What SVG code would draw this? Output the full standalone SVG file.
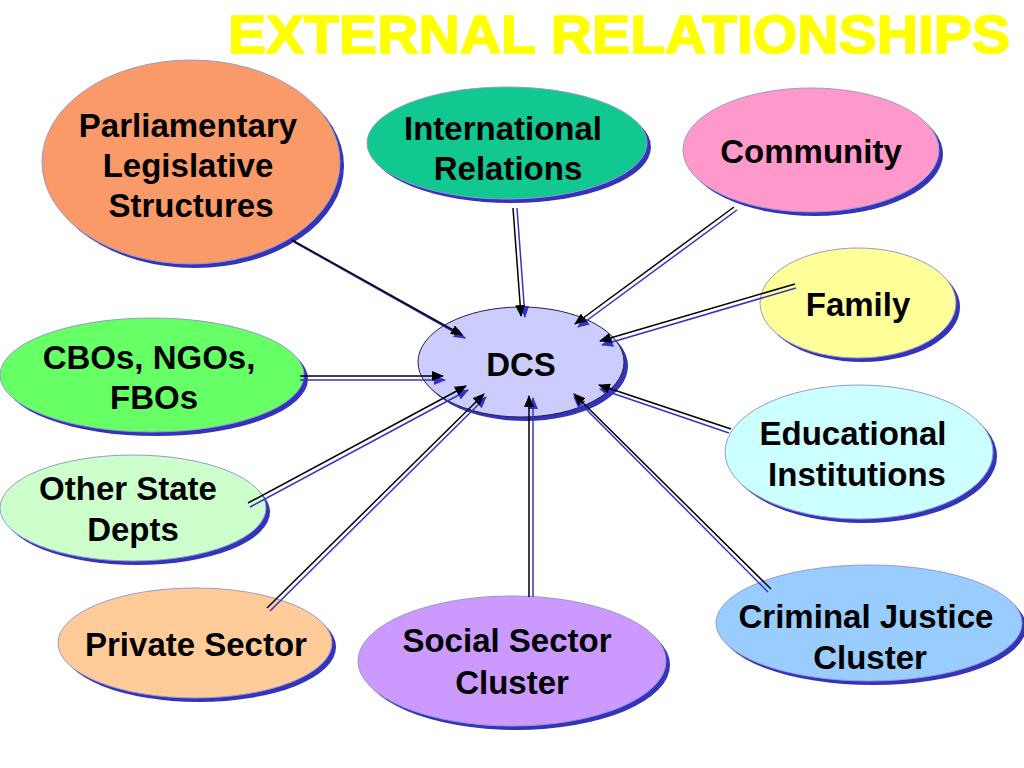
<svg xmlns="http://www.w3.org/2000/svg" width="1024" height="768" viewBox="0 0 1024 768">
<defs>
<marker id="ah" viewBox="0 0 12 10" refX="11" refY="5" markerWidth="12" markerHeight="10" markerUnits="userSpaceOnUse" orient="auto">
<path d="M0,0 L12,5 L0,10 z" fill="#000"/>
</marker>
<marker id="ahs" viewBox="0 0 12 10" refX="11" refY="5" markerWidth="12" markerHeight="10" markerUnits="userSpaceOnUse" orient="auto">
<path d="M0,0 L12,5 L0,10 z" fill="#3333CC"/>
</marker>
</defs>
<style>
.sh{fill:#3333BB}
.nd{stroke:#9999CC;stroke-width:1}
.t{font-family:"Liberation Sans",Arial,sans-serif;font-weight:bold;font-size:33px;fill:#000;text-anchor:middle}
.c{stroke:#000;stroke-width:1.5;fill:none;marker-end:url(#ah)}
.cs{stroke:#3333CC;stroke-width:1.5;fill:none;marker-end:url(#ahs)}
.title{font-family:"Liberation Sans",Arial,sans-serif;font-weight:bold;font-size:54px;fill:#FFFF00;stroke:#FFFF00;stroke-width:1.5}
</style>
<rect width="1024" height="768" fill="#fff"/>
<text class="title" x="228" y="53" textLength="782" lengthAdjust="spacingAndGlyphs">EXTERNAL RELATIONSHIPS</text>

<g id="parliamentary">
<ellipse class="sh" cx="195" cy="166" rx="149" ry="102"/>
<ellipse class="nd" cx="191" cy="162" rx="149" ry="102" fill="#FA9A68"/>
<text class="t" x="188" y="137">Parliamentary</text>
<text class="t" x="188" y="177">Legislative</text>
<text class="t" x="191" y="217">Structures</text>
</g>
<g id="international">
<ellipse class="sh" cx="511" cy="147" rx="140" ry="56"/>
<ellipse class="nd" cx="507" cy="143" rx="140" ry="56" fill="#10C890"/>
<text class="t" x="503" y="140">International</text>
<text class="t" x="508" y="180">Relations</text>
</g>
<g id="community">
<ellipse class="sh" cx="815" cy="154" rx="128" ry="62"/>
<ellipse class="nd" cx="811" cy="150" rx="128" ry="62" fill="#FF99CC"/>
<text class="t" x="811" y="163">Community</text>
</g>
<g id="family">
<ellipse class="sh" cx="862" cy="307" rx="98" ry="55"/>
<ellipse class="nd" cx="858" cy="303" rx="98" ry="55" fill="#FFFF99"/>
<text class="t" x="858" y="316">Family</text>
</g>
<g id="dcs">
<ellipse class="sh" cx="525" cy="366" rx="103" ry="55"/>
<ellipse cx="521" cy="362" rx="103" ry="55" fill="#CCCCFF" stroke="#222244" stroke-width="1"/>
<text class="t" x="521" y="376">DCS</text>
</g>
<g id="cbos">
<ellipse class="sh" cx="156" cy="379" rx="152" ry="57"/>
<ellipse class="nd" cx="152" cy="375" rx="152" ry="57" fill="#66FF66"/>
<text class="t" x="149" y="369">CBOs, NGOs,</text>
<text class="t" x="154" y="409">FBOs</text>
</g>
<g id="otherstate">
<ellipse class="sh" cx="137" cy="512" rx="133" ry="53"/>
<ellipse class="nd" cx="133" cy="508" rx="133" ry="53" fill="#CCFFCC"/>
<text class="t" x="128" y="500">Other State</text>
<text class="t" x="133" y="541">Depts</text>
</g>
<g id="educational">
<ellipse class="sh" cx="863" cy="456" rx="134" ry="67"/>
<ellipse class="nd" cx="859" cy="452" rx="134" ry="67" fill="#CCFFFF"/>
<text class="t" x="853" y="445">Educational</text>
<text class="t" x="857" y="486">Institutions</text>
</g>
<g id="criminal">
<ellipse class="sh" cx="873" cy="627" rx="153" ry="58"/>
<ellipse class="nd" cx="869" cy="623" rx="153" ry="58" fill="#99CCFF"/>
<text class="t" x="866" y="628">Criminal Justice</text>
<text class="t" x="870" y="669">Cluster</text>
</g>
<g id="private">
<ellipse class="sh" cx="199" cy="647" rx="137" ry="55"/>
<ellipse class="nd" cx="195" cy="643" rx="137" ry="55" fill="#FFCC99"/>
<text class="t" x="196" y="656">Private Sector</text>
</g>
<g id="social">
<ellipse class="sh" cx="516" cy="665" rx="154" ry="65"/>
<ellipse class="nd" cx="512" cy="661" rx="154" ry="65" fill="#CC99FF"/>
<text class="t" x="507" y="652">Social Sector</text>
<text class="t" x="512" y="694">Cluster</text>
</g>

<g id="connectors">
<line class="cs" x1="294" y1="242" x2="465" y2="338"/>
<line class="c" x1="292" y1="240" x2="462" y2="335"/>
<line class="cs" x1="517" y1="208" x2="525" y2="317"/>
<line class="c" x1="513" y1="208" x2="521" y2="316"/>
<line class="cs" x1="737" y1="210" x2="578" y2="327"/>
<line class="c" x1="734" y1="207" x2="575" y2="324"/>
<line class="cs" x1="796" y1="288" x2="602" y2="345"/>
<line class="c" x1="795" y1="284" x2="600" y2="341"/>
<line class="cs" x1="729" y1="433" x2="600" y2="389"/>
<line class="c" x1="731" y1="429" x2="599" y2="385"/>
<line class="cs" x1="768" y1="592" x2="574" y2="397"/>
<line class="c" x1="771" y1="589" x2="574" y2="394"/>
<line class="cs" x1="533" y1="597" x2="533" y2="398"/>
<line class="c" x1="529" y1="597" x2="529" y2="396"/>
<line class="cs" x1="270" y1="611" x2="486" y2="397"/>
<line class="c" x1="267" y1="608" x2="484" y2="394"/>
<line class="cs" x1="250" y1="507" x2="468" y2="390"/>
<line class="c" x1="248" y1="503" x2="466" y2="386"/>
<line class="cs" x1="300" y1="380" x2="445" y2="380"/>
<line class="c" x1="300" y1="376" x2="443" y2="376"/>
</g>
</svg>
